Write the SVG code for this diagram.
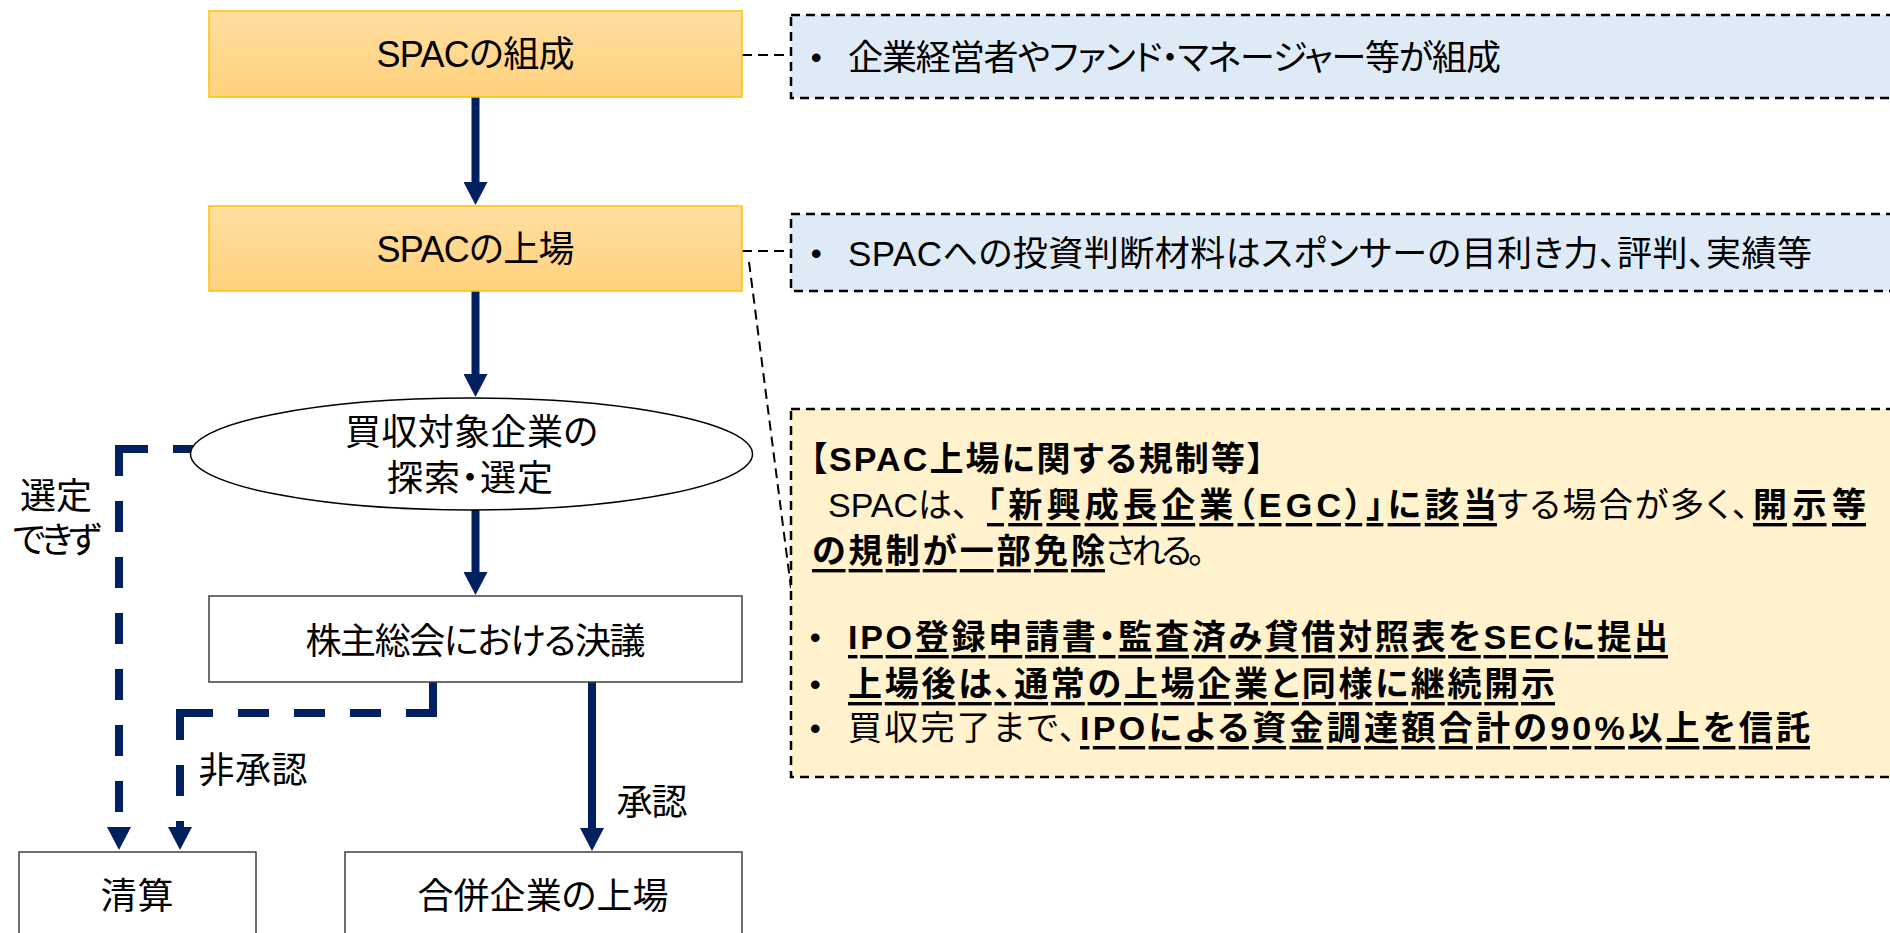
<svg xmlns="http://www.w3.org/2000/svg" width="1890" height="933" viewBox="0 0 1890 933">
<defs>
<style>
.t{font-family:"Liberation Sans","Noto Sans CJK JP",sans-serif;fill:#000;dominant-baseline:central;font-feature-settings:"palt"}
.lbl{font-size:36px;text-anchor:middle}
.nt{font-size:35px}
.n3{font-size:34px}
.bul{font-size:30px;font-weight:700}
.b{font-weight:700}
.u{text-decoration:underline}
.solid{stroke:#002060;stroke-width:8;fill:none}
.dash{stroke:#002060;stroke-width:8;fill:none;stroke-dasharray:31 25}
.thin{stroke:#000;stroke-width:2;fill:none;stroke-dasharray:10 6}
.gold{fill:url(#gg);stroke:#FFC000;stroke-width:1.5}
.plain{fill:#fff;stroke:#3F3F3F;stroke-width:1.5}
.ell{fill:#fff;stroke:#000;stroke-width:1.5}
.nb{fill:#DEEBF7;stroke:#000;stroke-width:2.5;stroke-dasharray:9 6}
.ny{fill:#FFF2CC;stroke:#000;stroke-width:2.5;stroke-dasharray:9 6}
</style>
<linearGradient id="gg" x1="0" y1="0" x2="0" y2="1">
<stop offset="0" stop-color="#FFDE9F"/>
<stop offset="1" stop-color="#FFD27E"/>
</linearGradient>
<marker id="ah" markerUnits="userSpaceOnUse" markerWidth="24" markerHeight="24" viewBox="0 0 24 24" refX="1" refY="12" orient="auto">
<path d="M0,0 L23,12 L0,24 z" fill="#002060"/>
</marker>
</defs>

<g id="connectors">
<line class="solid" x1="475.5" y1="97" x2="475.5" y2="183" marker-end="url(#ah)"/>
<line class="solid" x1="475.5" y1="291" x2="475.5" y2="375" marker-end="url(#ah)"/>
<line class="solid" x1="475.5" y1="510" x2="475.5" y2="573" marker-end="url(#ah)"/>
<line class="solid" x1="592" y1="682" x2="592" y2="829" marker-end="url(#ah)"/>
<line class="dash" x1="204" y1="449" x2="115" y2="449"/>
<line class="dash" x1="119" y1="445" x2="119" y2="828" marker-end="url(#ah)"/>
<line class="dash" x1="433" y1="682" x2="433" y2="717"/>
<line class="dash" x1="437" y1="713" x2="176" y2="713"/>
<line class="dash" x1="180" y1="709" x2="180" y2="828" marker-end="url(#ah)"/>
<line class="thin" x1="742" y1="55" x2="791" y2="55"/>
<line class="thin" x1="742" y1="251" x2="791" y2="251"/>
<line class="thin" x1="749" y1="262" x2="791" y2="588"/>
<g id="edge-labels">
<text class="t lbl" x="56" y="496" textLength="72">選定</text>
<text class="t lbl" x="57" y="540" textLength="89">できず</text>
<text class="t lbl" x="253" y="770" textLength="109">非承認</text>
<text class="t lbl" x="652" y="802" textLength="71">承認</text>
</g>
</g>

<g id="node-form">
<rect class="gold" x="209" y="11" width="533" height="86"/>
<text class="t lbl" x="475.5" y="54" textLength="198">SPACの組成</text>
</g>
<g id="node-listing">
<rect class="gold" x="209" y="206" width="533" height="85"/>
<text class="t lbl" x="475.5" y="249" textLength="198">SPACの上場</text>
</g>
<g id="node-search">
<ellipse class="ell" cx="471.5" cy="454" rx="281" ry="56"/>
<text class="t lbl" x="471.5" y="432" textLength="253">買収対象企業の</text>
<text class="t lbl" x="470" y="478" textLength="166">探索・選定</text>
</g>
<g id="node-resolution">
<rect class="plain" x="209" y="596" width="533" height="86"/>
<text class="t lbl" x="475.5" y="641" textLength="340">株主総会における決議</text>
</g>
<g id="node-liquidation">
<rect class="plain" x="19" y="852" width="237" height="100"/>
<text class="t lbl" x="137" y="896" textLength="73">清算</text>
</g>
<g id="node-merged">
<rect class="plain" x="345" y="852" width="397" height="100"/>
<text class="t lbl" x="543" y="896" textLength="251">合併企業の上場</text>
</g>

<g id="note-form">
<rect class="nb" x="791" y="15" width="1130" height="83"/>
<text class="t bul" x="811" y="57">•</text>
<text class="t nt" x="848" y="57" textLength="653">企業経営者やファンド・マネージャー等が組成</text>
</g>
<g id="note-listing">
<rect class="nb" x="791" y="214" width="1130" height="77"/>
<text class="t bul" x="811" y="253">•</text>
<text class="t nt" x="848" y="253" textLength="964">SPACへの投資判断材料はスポンサーの目利き力、評判、実績等</text>
</g>
<g id="note-regulation">
<rect class="ny" x="791" y="409" width="1130" height="368"/>
<text class="t n3 b" x="810" y="459" textLength="454">【SPAC上場に関する規制等】</text>
<text class="t n3" x="828" y="505">SPACは、</text>
<text class="t n3 b u" x="987" y="505" textLength="510">「新興成長企業（EGC）」に該当</text>
<text class="t n3" x="1497" y="505" textLength="252">する場合が多く、</text>
<text class="t n3 b u" x="1753" y="505" textLength="113">開示等</text>
<text class="t n3 b u" x="812" y="551" textLength="293">の規制が一部免除</text>
<text class="t n3" x="1105" y="551" textLength="100">される。</text>
<text class="t bul" x="810" y="637">•</text>
<text class="t n3 b u" x="848" y="637" textLength="820">IPO登録申請書・監査済み貸借対照表をSECに提出</text>
<text class="t bul" x="810" y="684">•</text>
<text class="t n3 b u" x="848" y="684" textLength="707">上場後は、通常の上場企業と同様に継続開示</text>
<text class="t bul" x="810" y="728">•</text>
<text class="t n3" x="848" y="728" textLength="228">買収完了まで、</text>
<text class="t n3 b u" x="1080" y="728" textLength="730">IPOによる資金調達額合計の90%以上を信託</text>
</g>
</svg>
